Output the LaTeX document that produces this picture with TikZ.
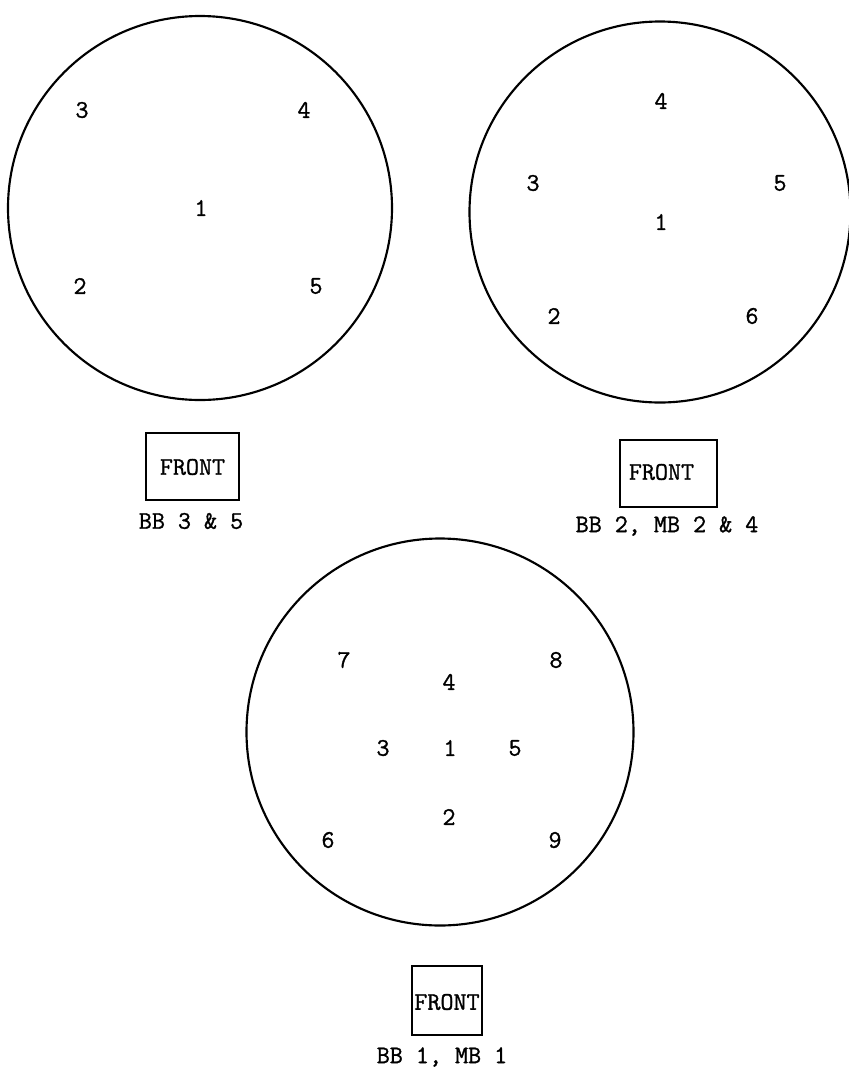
\documentclass[tikz,border=0pt]{standalone}
\usepackage{fontspec}
\newfontfamily\twfont{Latin Modern Mono}[FakeBold=1.2]
\begin{document}
\begin{tikzpicture}[x=0.75pt,y=-0.75pt,
  ring/.style={draw,line width=1.6,circle,minimum size={#1*0.75pt},inner sep=0pt},
  lab/.style={font=\fontsize{19}{22}\selectfont\twfont,inner sep=0pt},
  frontbox/.style={draw,line width=1.6}]
\useasboundingbox (0,0) rectangle (849,1072);
% circle 1
\node[ring=384] (c1) at (200,208) {};
\node[lab] (a3) at (82,110) {3};
\node[lab] (a4) at (304,110) {4};
\node[lab] (a1) at (201,208) {1};
\node[lab] (a2) at (80,286) {2};
\node[lab] (a5) at (316,286) {5};
\draw[frontbox] (146,433) rectangle (239,500);
\node[lab] (f1) at (192.5,467) {FRONT};
\node[lab] (t1) at (191,521) {BB 3 \& 5};
% circle 2
\node[ring=381] (c2) at (660,212) {};
\node[lab] (b4) at (661,101) {4};
\node[lab] (b3) at (533,183) {3};
\node[lab] (b5) at (780,183) {5};
\node[lab] (b1) at (661,222) {1};
\node[lab] (b2) at (554,316) {2};
\node[lab] (b6) at (752,316) {6};
\draw[frontbox] (620,440) rectangle (717,507);
\node[lab] (f2) at (661.5,472) {FRONT};
\node[lab] (t2) at (667,526) {BB 2, MB 2 \& 4};
% circle 3
\node[ring=387] (c3) at (440,732) {};
\node[lab] (d7) at (344,660) {7};
\node[lab] (d8) at (556,660) {8};
\node[lab] (d4) at (449,682) {4};
\node[lab] (d3) at (383,748) {3};
\node[lab] (d1) at (450,748) {1};
\node[lab] (d5) at (515,748) {5};
\node[lab] (d2) at (449,817) {2};
\node[lab] (d6) at (328,840) {6};
\node[lab] (d9) at (555,840) {9};
\draw[frontbox] (412,966) rectangle (482,1035);
\node[lab] (f3) at (447,1002) {FRONT};
\node[lab] (t3) at (442,1057) {BB 1, MB 1};
\end{tikzpicture}
\end{document}
